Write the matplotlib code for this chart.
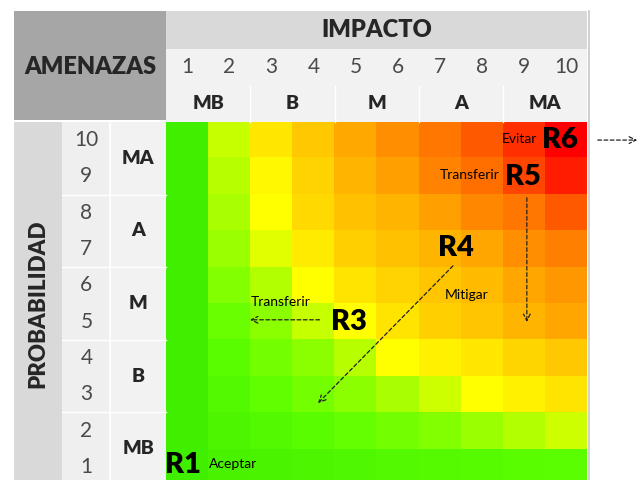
import matplotlib
matplotlib.use("Agg")
import matplotlib.pyplot as plt
from matplotlib.colors import LinearSegmentedColormap
from matplotlib.patches import Rectangle
import numpy as np

plt.rcParams['font.family'] = ['Lato', 'DejaVu Sans']

# ---- data ----
impact_numbers = [1, 2, 3, 4, 5, 6, 7, 8, 9, 10]
impact_levels = ["MB", "B", "M", "A", "MA"]
prob_numbers = [1, 2, 3, 4, 5, 6, 7, 8, 9, 10]
prob_levels = ["MB", "B", "M", "A", "MA"]

# risk intensity per cell, rows from probability 10 (top) down to 1
risk_level = np.array([
    [0.00, 0.30, 0.47, 0.56, 0.65, 0.72, 0.78, 0.85, 0.92, 1.00],
    [0.00, 0.28, 0.42, 0.53, 0.62, 0.68, 0.75, 0.80, 0.88, 0.95],
    [0.00, 0.26, 0.40, 0.51, 0.58, 0.62, 0.68, 0.74, 0.78, 0.85],
    [0.00, 0.24, 0.35, 0.46, 0.54, 0.58, 0.62, 0.66, 0.72, 0.76],
    [0.00, 0.20, 0.27, 0.40, 0.48, 0.53, 0.57, 0.60, 0.66, 0.70],
    [0.00, 0.15, 0.22, 0.30, 0.40, 0.48, 0.54, 0.57, 0.62, 0.66],
    [0.00, 0.11, 0.17, 0.22, 0.28, 0.40, 0.44, 0.47, 0.52, 0.56],
    [0.00, 0.08, 0.13, 0.17, 0.22, 0.26, 0.31, 0.40, 0.44, 0.48],
    [0.00, 0.06, 0.08, 0.11, 0.14, 0.17, 0.20, 0.24, 0.27, 0.31],
    [0.00, 0.04, 0.05, 0.06, 0.07, 0.08, 0.09, 0.10, 0.11, 0.12],
])

risks = ["R1", "R3", "R4", "R5", "R6"]
actions = ["Aceptar", "Transferir", "Mitigar", "Transferir", "Evitar"]

# ---- figure ----
fig = plt.figure(figsize=(6.42, 4.8), dpi=100)
ax = fig.add_axes([14 / 642, 1 - 485 / 480, 573 / 642, 472 / 480])
ax.set_xlim(-3.12, 10.5)
ax.set_ylim(0.5, 13.5)
ax.axis('off')

cmap = LinearSegmentedColormap.from_list("risk", [
    (0.00, "#40ee00"), (0.12, "#5cff00"), (0.22, "#8cff00"), (0.30, "#c8ff00"),
    (0.40, "#ffff00"), (0.55, "#ffcc00"), (0.70, "#ff9900"),
    (0.85, "#ff5a00"), (1.00, "#ff0000")])
ax.imshow(risk_level, cmap=cmap, vmin=0, vmax=1, origin='upper',
          extent=(0.5, 10.5, 0.5, 10.5), aspect='auto', interpolation='nearest')

# header backgrounds
ax.add_patch(Rectangle((-3.12, 10.55), 3.62, 3.0, color="#a6a6a6", lw=0, clip_on=False))
ax.add_patch(Rectangle((0.5, 12.5), 10.0, 1.05, color="#d9d9d9", lw=0, clip_on=False))
ax.add_patch(Rectangle((0.5, 10.5), 10.0, 2.0, color="#f2f2f2", lw=0))
ax.add_patch(Rectangle((-3.12, 0.5), 1.14, 10.0, color="#d9d9d9", lw=0))
ax.add_patch(Rectangle((-1.98, 0.5), 1.15, 10.0, color="#efefef", lw=0))
ax.add_patch(Rectangle((-0.83, 0.5), 1.33, 10.0, color="#f2f2f2", lw=0))
ax.plot([-0.83, -0.83], [0.5, 10.5], color="white", lw=1.2)
for k in range(1, 5):
    ax.plot([0.5 + 2 * k] * 2, [10.5, 11.5], color="white", lw=1)
    ax.plot([-1.98, 0.5], [0.5 + 2 * k] * 2, color="white", lw=1)
ax.plot([10.55, 10.55], [0.5, 13.55], color="#c8c8c8", lw=1.2, clip_on=False)

txt = "#262626"
ax.text(5.5, 13.02, "IMPACTO", ha='center', va='center', fontsize=17,
        fontweight='heavy', color=txt)
ax.text(-1.31, 12.0, "AMENAZAS", ha='center', va='center', fontsize=17,
        fontweight='heavy', color=txt)
for i, n in enumerate(impact_numbers):
    ax.text(i + 1, 12.0, str(n), ha='center', va='center', fontsize=15, color="#4a4a4a")
for i, lab in enumerate(impact_levels):
    ax.text(2 * i + 1.5, 11.0, lab, ha='center', va='center', fontsize=14,
            fontweight='heavy', color=txt)
for n in prob_numbers:
    ax.text(-1.4, n, str(n), ha='center', va='center', fontsize=15, color="#4a4a4a")
for i, lab in enumerate(prob_levels):
    ax.text(-0.17, 2 * i + 1.5, lab, ha='center', va='center', fontsize=14,
            fontweight='heavy', color=txt)
ax.text(-2.55, 5.5, "PROBABILIDAD", ha='center', va='center', rotation=90,
        fontsize=16, fontweight='heavy', color=txt)

# risk markers
rpos = [(0.90, 1.05), (4.85, 5.0), (7.39, 7.03), (8.98, 8.98), (9.86, 10.0)]
apos = [(1.52, 1.08, 'left'), (3.21, 5.55, 'center'), (7.65, 5.73, 'center'),
        (8.43, 9.03, 'right'), (9.31, 10.02, 'right')]
for r, (x, y) in zip(risks, rpos):
    ax.text(x, y, r, ha='center', va='center', fontsize=21, fontweight='heavy', color="black")
for a, (x, y, h) in zip(actions, apos):
    ax.text(x, y, a, ha=h, va='center', fontsize=10, color="black")

aprops = dict(arrowstyle='->', linestyle=(0, (3, 2)), lw=0.9, color="#222222",
              mutation_scale=12)
for (x0, y0, x1, y1) in [(10.69, 10.0, 11.76, 10.0), (9.07, 8.49, 9.07, 4.91),
                         (7.36, 6.59, 4.06, 2.70), (4.21, 5.05, 2.42, 5.05)]:
    ax.annotate("", xy=(x1, y1), xytext=(x0, y0), arrowprops=aprops,
                annotation_clip=False)

fig.savefig("out.png", dpi=100)
